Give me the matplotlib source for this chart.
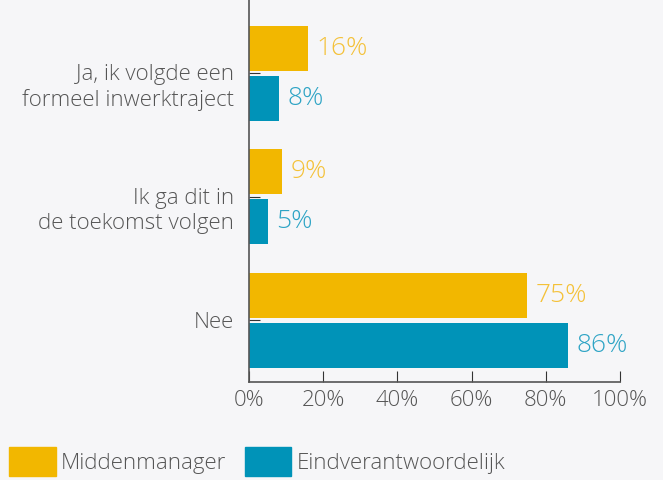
import numpy as np
import matplotlib.pyplot as plt
from matplotlib.patches import Patch
import matplotlib.transforms as mtransforms

# data
categories = ["Ja, ik volgde een\nformeel inwerktraject",
              "Ik ga dit in\nde toekomst volgen",
              "Nee"]
middenmanager = [16, 9, 75]
eindverantwoordelijk = [8, 5, 86]
series_names = ["Middenmanager", "Eindverantwoordelijk"]
x_ticks = [0, 20, 40, 60, 80, 100]

yellow = "#F2B700"
blue = "#0093B8"
yellow_txt = "#F4C138"
blue_txt = "#2EA4C5"
gray = "#555555"
bg = "#F6F6F8"

plt.rcParams['font.family'] = ['Open Sans', 'DejaVu Sans']
plt.rcParams['font.weight'] = 'light'

fig = plt.figure(figsize=(6.63, 4.8), dpi=100, facecolor=bg)
ax = fig.add_axes([249 / 663, 1 - 382 / 480, (620 - 249) / 663, 382 / 480])
ax.set_facecolor(bg)

y = np.arange(len(categories))
h = 0.364
off = 0.2025
ax.barh(y - off, middenmanager, height=h, color=yellow)
ax.barh(y + off, eindverantwoordelijk, height=h, color=blue)

for i in range(len(categories)):
    ax.text(middenmanager[i] + 2.3, y[i] - off, f"{middenmanager[i]}%",
            va="center", ha="left", fontsize=19, color=yellow_txt)
    ax.text(eindverantwoordelijk[i] + 2.3, y[i] + off, f"{eindverantwoordelijk[i]}%",
            va="center", ha="left", fontsize=19, color=blue_txt)

ax.set_ylim(2.5, -0.593)
ax.set_xlim(0, 100)
ax.set_yticks(y)
ax.set_yticklabels([])
# category labels: first line sits at the tick, the second hangs below
base_tr = mtransforms.blended_transform_factory(ax.transAxes, ax.transData)
for i, cat in enumerate(categories):
    drop = 7.5 + 25 * cat.count("\n")  # px from tick to baseline of last line
    tr = base_tr + mtransforms.ScaledTranslation(-15 / 100, -drop / 100, fig.dpi_scale_trans)
    ax.text(0, y[i], cat, transform=tr, ha="right", va="baseline",
            fontsize=16, color=gray, linespacing=1.25, clip_on=False)

ax.set_xticks(x_ticks)
ax.set_xticklabels([f"{t}%" for t in x_ticks], fontsize=16, color=gray)

ax.tick_params(axis="y", direction="in", length=8, color="#333333")
ax.tick_params(axis="x", direction="in", length=8, color="#333333", pad=6)
for s in ["top", "right"]:
    ax.spines[s].set_visible(False)
ax.spines["left"].set_color(gray)
ax.spines["bottom"].set_color(gray)
ax.spines["left"].set_linewidth(1.2)
ax.spines["bottom"].set_linewidth(1.2)

handles = [Patch(color=yellow), Patch(color=blue)]
fig.legend(handles, series_names, loc="upper left", bbox_to_anchor=(9 / 663, 1 - 447 / 480),
           ncol=2, frameon=False, fontsize=16, handlelength=2.1, handleheight=1.6,
           handletextpad=0.22, columnspacing=0.85, borderaxespad=0, borderpad=0,
           labelcolor=gray)

fig.savefig("out.png", dpi=100, facecolor=bg)
